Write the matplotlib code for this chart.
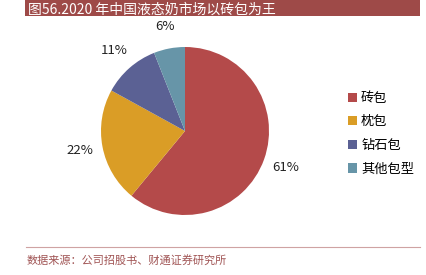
import matplotlib.pyplot as plt
from matplotlib.patches import Rectangle
from matplotlib.lines import Line2D

plt.rcParams['font.family'] = ['Noto Sans CJK SC', 'DejaVu Sans']

# 数据
labels = ['砖包', '枕包', '钻石包', '其他包型']
shares = [61, 22, 11, 6]
colors = ['#B44A4A', '#DA9D26', '#5B6194', '#6795A8']
title = '图56.2020 年中国液态奶市场以砖包为王'
source = '数据来源：公司招股书、财通证券研究所'

fig = plt.figure(figsize=(4.27, 2.75), dpi=100)

# 标题栏
fig.patches.append(Rectangle((25 / 427, 1 - 16 / 275), 395 / 427, 16 / 275,
                             transform=fig.transFigure, facecolor='#9E4A48',
                             edgecolor='none'))
fig.text(28 / 427, 1 - 8.5 / 275, title, color='white', fontsize=10,
         va='center_baseline', ha='left')

# 饼图
ax = fig.add_axes([(185 - 84) / 427, 1 - (131 + 84) / 275, 168 / 427, 168 / 275])
wedges, texts, autotexts = ax.pie(shares, colors=colors, startangle=90,
                                  counterclock=False, autopct='%d%%',
                                  pctdistance=1.27,
                                  textprops={'fontsize': 9.5, 'color': '#222222'})
ax.set_xlim(-1, 1)
ax.set_ylim(-1, 1)
ax.set_aspect('equal')

fig.legend(wedges, labels, loc='upper left',
           bbox_to_anchor=(336 / 427, 1 - 80 / 275), frameon=False,
           fontsize=9.5, handlelength=0.7, handleheight=0.7,
           handletextpad=0.3, labelspacing=0.8)

# 底部来源
fig.lines.append(Line2D([26 / 427, 420 / 427], [1 - 247 / 275, 1 - 247 / 275],
                        transform=fig.transFigure, color='#CFA3A3', lw=0.8))
fig.text(27 / 427, 1 - 260 / 275, source, color='#A05454', fontsize=8,
         va='center', ha='left')

plt.savefig('out.png', dpi=100)
